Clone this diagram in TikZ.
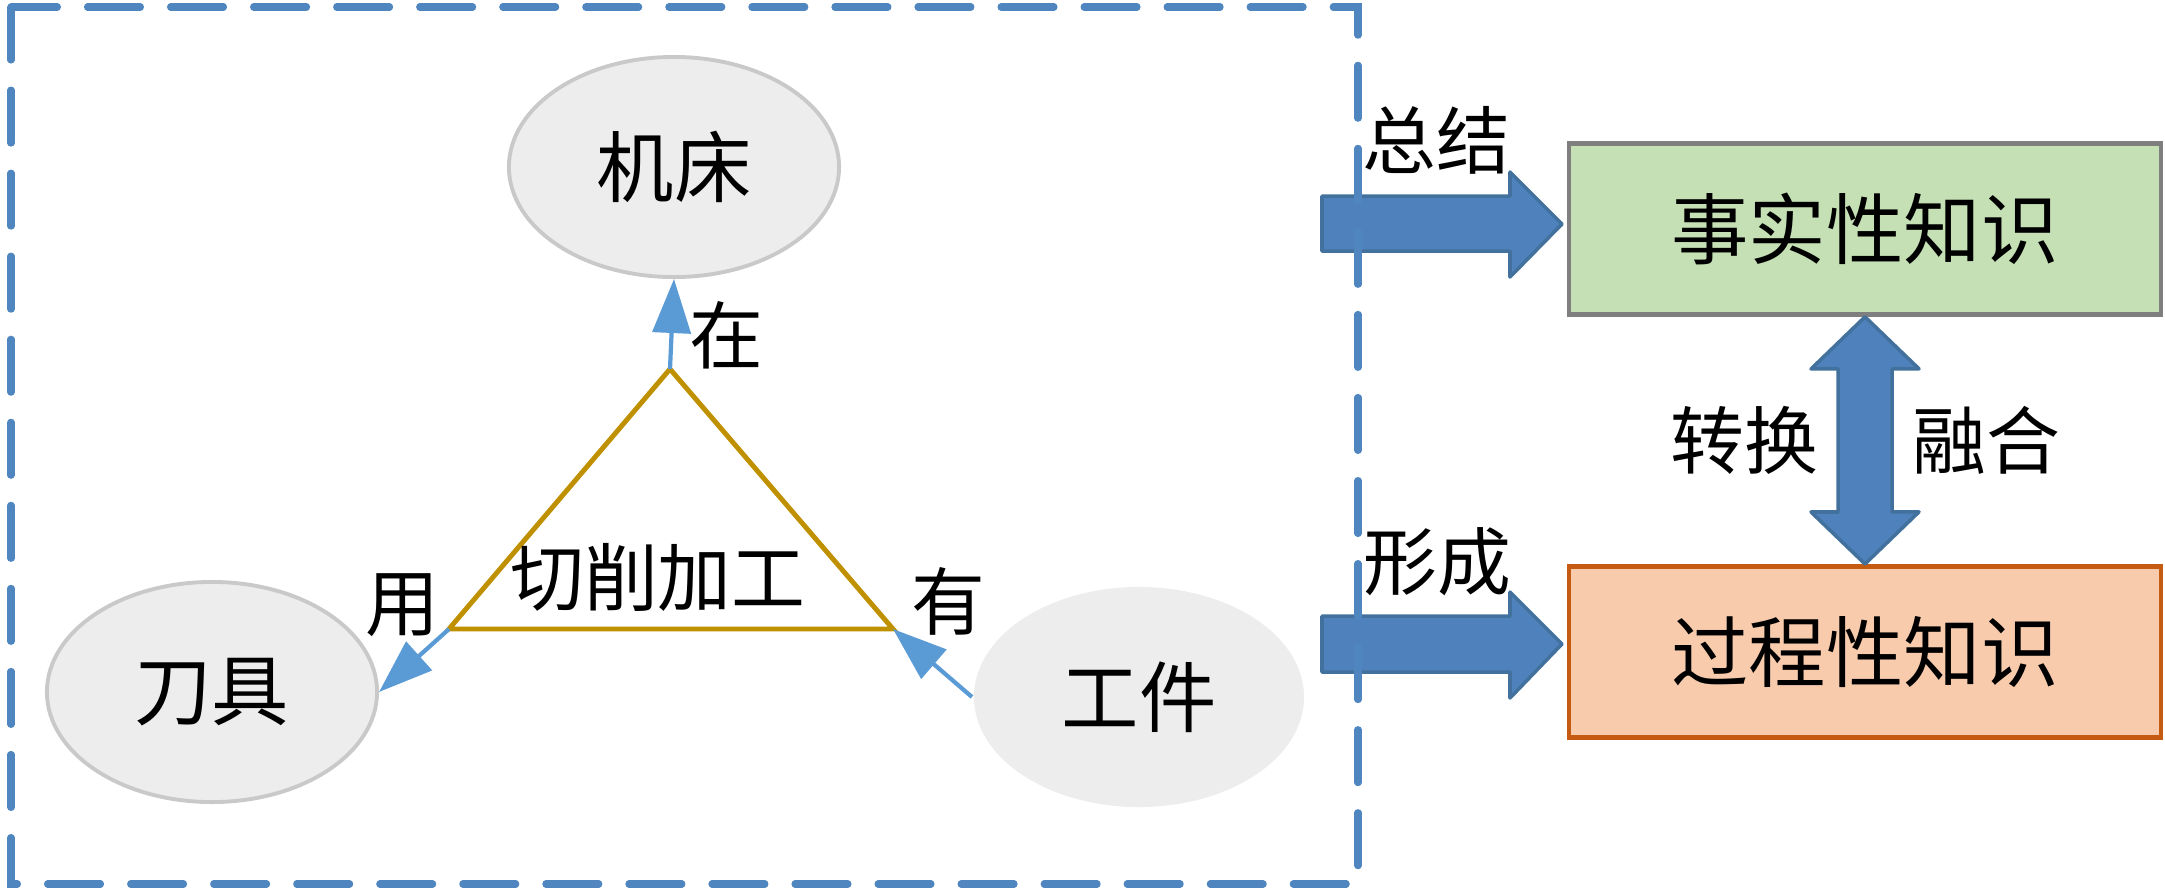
\documentclass[tikz,border=0pt]{standalone}
\usepackage{fontspec}
\newfontfamily\cjk{Noto Sans CJK SC}
\usetikzlibrary{positioning,shapes.geometric,arrows.meta}
\definecolor{nodegray}{HTML}{EDEDED}
\definecolor{nodeline}{HTML}{C9C9C9}
\definecolor{relblue}{HTML}{5B9BD5}
\definecolor{frameblue}{HTML}{4F86BF}
\definecolor{trigold}{HTML}{BF9000}
\definecolor{factfill}{HTML}{C5E0B4}
\definecolor{factline}{HTML}{7F7F7F}
\definecolor{procfill}{HTML}{F8CBAD}
\definecolor{procline}{HTML}{C55A11}
\definecolor{bigfill}{HTML}{4F81BD}
\definecolor{bigline}{HTML}{41719C}
\tikzset{main node/.style={ellipse,fill=nodegray,draw=nodeline,line width=1.1pt,minimum width=3.3cm,minimum height=2.2cm,inner sep=0pt,font=\cjk\fontsize{22}{26}\selectfont},
            know node/.style={rectangle,minimum width=5.92cm,minimum height=1.71cm,line width=1.3pt,font=\cjk\fontsize{22}{26}\selectfont},
            word node/.style={inner sep=0pt,font=\cjk\fontsize{21}{25}\selectfont},
            rel arrow/.style={draw,color=relblue,line width=1.2pt,-{Triangle[length=0.54cm,width=0.38cm]}},
            big arrow/.style={fill=bigfill,draw=bigline,line width=1pt,line join=round},
            }

\begin{document}
\begin{tikzpicture}[x=0.01cm,y=-0.01cm]
    \useasboundingbox (0,0) rectangle (2165,890);
    % left part
    \node[main node] (machine) at (674,167) {机床};
    \node[main node] (tool) at (212,692) {刀具};
    \node[main node,draw=none] (work) at (1139,697) {工件};

    \coordinate (apex) at (670,369);
    \coordinate (tl) at (449,629);
    \coordinate (tr) at (893,629);
    \draw[trigold,line width=1.4pt] (apex) -- (tl) -- (tr) -- cycle;
    \node[word node] (cut) at (658,577) {切削加工};

    \path
    (apex) edge[rel arrow] (machine.south)
    (tl) edge[rel arrow] (tool.east)
    (work.west) edge[rel arrow] (tr)
    ;
    \node[word node] (zai) at (726,335) {在};
    \node[word node] (yong) at (402,605) {用};
    \node[word node] (you) at (948,601) {有};

    % right part
    \node[know node,fill=factfill,draw=factline] (fact) at (1865,229) {事实性知识};
    \node[know node,fill=procfill,draw=procline] (proc) [below = 2.47cm of fact] {过程性知识};

    \path[big arrow] (1322,196) -- (1510,196) -- (1510,172) -- (1562,224) -- (1510,277) -- (1510,251) -- (1322,251) -- cycle;
    \path[big arrow] (1322,616) -- (1510,616) -- (1510,592) -- (1562,644) -- (1510,698) -- (1510,672) -- (1322,672) -- cycle;
    \path[big arrow] (fact.south) -- ++(54,52) -- ++(-27,0) -- ++(0,143) -- ++(27,0) -- (proc.north)
        -- ++(-54,-52) -- ++(27,0) -- ++(0,-143) -- ++(-27,0) -- cycle;

    \draw[frameblue,line width=2pt,line cap=round,dash pattern=on 0.53cm off 0.3cm] (11,7) rectangle (1358,884);

    \node[word node] (sum) at (1436,140) {总结};
    \node[word node] (form) at (1437,562) {形成};
    \node[word node] (conv) at (1744,440) {转换};
    \node[word node] (fuse) at (1986,440) {融合};
\end{tikzpicture}
\end{document}
